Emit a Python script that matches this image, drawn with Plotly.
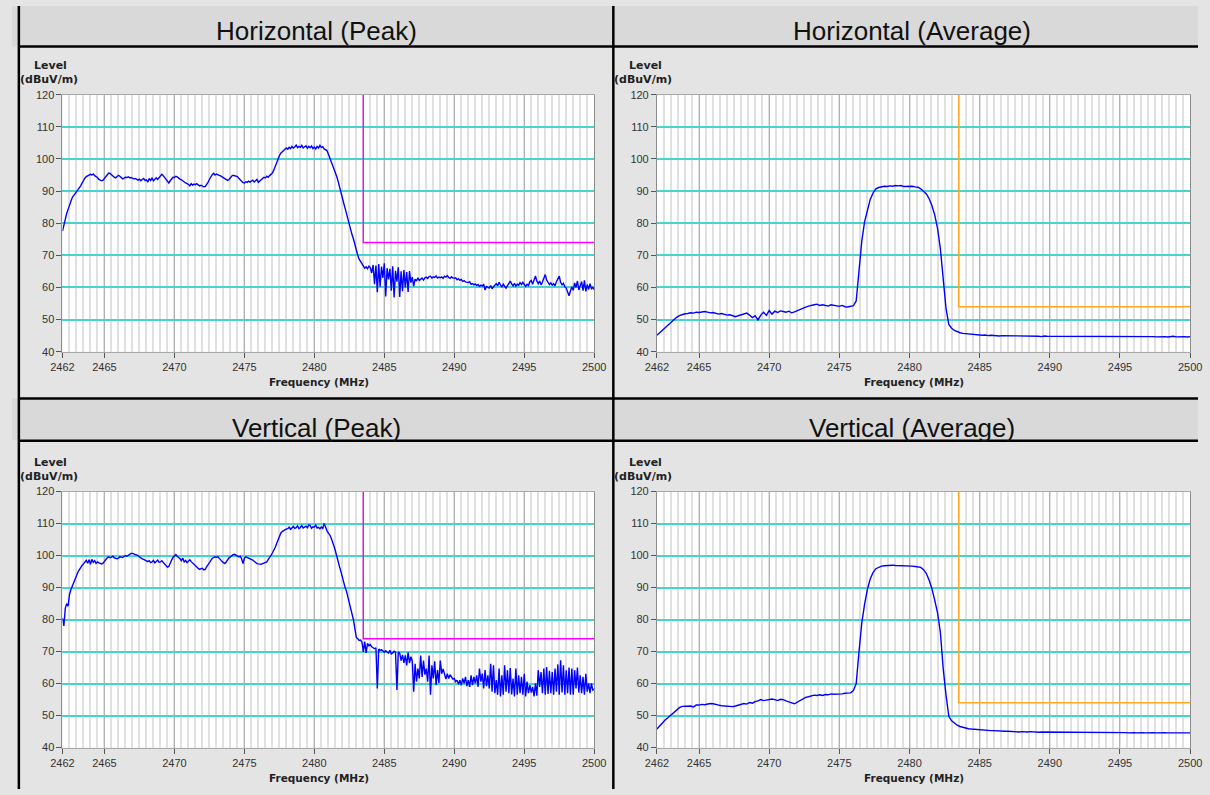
import numpy as np
import plotly.graph_objects as go

W, H = 1210, 795

# ---------------- data ----------------
# sample frequencies (MHz): peak sweeps every 0.1 MHz, average sweeps every 0.2 MHz
freq_peak = np.round(np.arange(2462.0, 2500.0001, 0.1), 1)
freq_avg = np.round(np.arange(2462.0, 2500.0001, 0.2), 1)

h_peak = [
    77.5, 79.5, 81.5, 83.0, 84.3, 85.6, 86.8, 88.0, 88.6, 89.2,
    89.6, 90.1, 90.8, 91.6, 92.5, 93.4, 94.0, 94.5, 94.8, 95.1,
    95.2, 95.0, 95.3, 94.8, 94.5, 94.2, 93.6, 93.4, 93.2, 93.4,
    93.9, 94.4, 95.1, 95.6, 95.5, 95.0, 94.6, 94.3, 94.1, 94.5,
    94.9, 94.6, 94.0, 93.8, 94.0, 94.3, 94.2, 94.4, 94.1, 94.2,
    94.0, 93.8, 93.9, 93.6, 93.4, 93.7, 93.2, 93.6, 93.9, 93.3,
    93.5, 92.8, 93.9, 93.3, 94.0, 93.2, 93.8, 94.1, 93.6, 94.2,
    94.7, 95.2, 94.8, 94.2, 93.6, 93.0, 92.5, 93.2, 93.9, 94.3,
    94.2, 94.6, 94.4, 93.9, 93.7, 93.5, 93.1, 92.8, 92.5, 92.3,
    92.1, 91.6, 92.3, 91.8, 92.2, 92.0, 92.3, 91.9, 91.6, 91.8,
    91.5, 91.3, 91.4, 92.0, 92.7, 93.6, 94.4, 95.1, 95.5, 95.0,
    95.3, 95.2, 94.9, 94.7, 94.4, 94.1, 93.8, 93.5, 93.3, 93.6,
    94.2, 94.7, 94.9, 94.8, 94.8, 94.5, 94.0, 93.5, 93.2, 92.6,
    92.5, 92.9, 92.7, 93.1, 92.8, 93.0, 93.4, 92.8, 93.3, 93.6,
    92.7, 93.2, 93.6, 93.9, 94.3, 94.1, 94.6, 94.3, 94.8, 95.1,
    95.6, 96.5, 97.8, 98.9, 99.8, 101.0, 101.8, 102.3, 102.8, 103.0,
    103.4, 103.0, 103.6, 103.2, 103.9, 103.4, 103.7, 104.3, 103.5, 103.9,
    103.6, 104.2, 103.4, 103.8, 104.1, 103.3, 103.9, 103.5, 104.0, 103.2,
    103.7, 103.1, 103.9, 103.4, 104.2, 103.6, 103.8, 103.1, 102.9, 102.6,
    101.5, 100.4, 99.5, 98.4, 97.2, 95.8, 94.5, 93.0, 91.5, 89.8,
    87.8, 86.2, 84.6, 82.8, 81.2, 79.6, 77.9, 76.3, 75.0, 73.0,
    71.2, 70.0, 68.8, 68.0, 67.2, 66.6, 66.0, 66.4, 65.8, 66.6,
    66.2, 64.5, 67.0, 61.0, 66.8, 58.5, 67.3, 60.2, 66.5, 63.0,
    67.5, 57.2, 66.0, 62.5, 65.8, 59.0, 66.6, 56.9, 65.2, 61.8,
    66.3, 57.0, 65.0, 58.8, 65.4, 60.0, 64.8, 58.6, 65.1, 61.5,
    63.2, 60.4, 62.6, 62.0, 63.0, 62.2, 62.5, 62.9, 62.3, 63.0,
    63.2, 62.8, 63.4, 63.5, 62.9, 63.3, 63.1, 63.6, 62.9, 63.2,
    63.0, 63.3, 62.8, 63.5, 63.2, 63.7, 63.1, 62.8, 63.3, 62.9,
    62.9, 63.0, 62.4, 62.7, 62.2, 62.5, 61.9, 62.1, 61.7, 61.5,
    61.5, 61.8, 61.0, 61.2, 60.8, 61.1, 60.6, 60.9, 60.3, 60.7,
    60.4, 61.0, 59.2, 60.3, 60.0, 59.8, 60.6, 59.6, 60.2, 60.9,
    61.2, 60.5, 61.6, 60.8, 60.1, 61.0, 60.2, 59.8, 60.6, 61.4,
    62.0, 61.1, 60.5, 61.3, 60.4, 61.0, 60.7, 61.5, 60.9, 61.6,
    60.8, 60.3, 61.0, 60.6, 61.8, 62.2, 61.0, 62.5, 63.6, 61.9,
    61.2, 62.0, 60.8, 61.7, 63.0, 64.0, 62.3, 61.5, 60.9, 61.4,
    60.7, 61.2, 60.5, 61.8, 62.9, 63.5, 61.6, 60.8, 61.3, 60.2,
    59.8, 58.6, 57.4, 58.9, 60.2, 59.1, 61.4, 60.0, 62.0, 59.2,
    60.5, 61.8, 59.0, 62.2, 58.8, 60.9, 59.3, 61.2, 59.6, 60.0,
    59.3,
]

h_avg = [
    45.1, 45.9, 46.8, 47.6, 48.4,
    49.3, 50.0, 50.7, 51.2, 51.6,
    51.8, 51.9, 52.1, 52.0, 52.3,
    52.2, 52.4, 52.5, 52.3, 52.1,
    52.2, 51.9, 51.7, 51.9, 51.6,
    51.4, 51.5, 51.1, 50.9, 51.2,
    51.5, 51.8, 52.0, 51.4, 50.6,
    51.2, 49.9, 51.4, 52.3, 51.3,
    52.8, 51.7, 52.6, 52.2, 52.7,
    52.5, 52.3, 52.6, 52.1, 52.4,
    52.8, 53.3, 53.6, 53.9, 54.2,
    54.3, 54.6, 54.8, 54.4, 54.6,
    54.5, 54.2, 54.6, 54.4, 54.3,
    54.1, 54.4, 54.0, 53.9, 54.2,
    54.3, 55.8, 65.0, 74.5, 80.5,
    84.5, 87.4, 89.4, 90.7, 91.1,
    91.3, 91.5, 91.4, 91.6, 91.5,
    91.7, 91.6, 91.7, 91.4, 91.5,
    91.4, 91.5, 91.3, 91.2, 90.7,
    90.0, 89.1, 87.6, 85.4, 82.5,
    78.3, 72.0, 63.5, 53.5, 48.5,
    47.3, 46.6, 46.2, 45.9, 45.7,
    45.6, 45.5, 45.4, 45.3, 45.2,
    45.3, 45.1, 45.2, 45.0, 45.1,
    45.0, 45.1, 44.9, 45.0, 45.0,
    44.9, 45.0, 44.9, 44.8, 44.9,
    45.0, 44.8, 44.9, 44.9, 44.8,
    44.9, 44.8, 44.7, 44.9, 44.8,
    44.8, 44.9, 44.8, 44.7, 44.8,
    44.9, 44.7, 44.8, 44.8, 44.9,
    44.8, 44.7, 44.8, 44.9, 44.8,
    44.7, 44.8, 44.9, 44.8, 44.7,
    44.8, 44.9, 44.8, 44.7, 44.8,
    44.8, 44.7, 44.9, 44.8, 44.7,
    44.8, 44.7, 44.8, 44.7, 44.8,
    44.7, 44.8, 44.7, 44.6, 44.7,
    44.8, 44.7, 44.6, 44.7, 44.8,
    44.6, 44.7, 44.6, 44.7, 44.6,
    44.7,
]

v_peak = [
    80.5, 78.0, 83.5, 85.0, 84.2, 87.8, 89.3, 90.5, 91.8, 92.8,
    93.9, 94.8, 95.5, 96.3, 96.9, 97.4, 98.0, 98.5, 97.6, 98.7,
    97.3, 98.8, 97.9, 98.4, 97.6, 98.0, 97.7, 97.5, 97.4, 97.6,
    98.2, 98.9, 99.3, 99.6, 99.3, 99.5, 99.8, 99.3, 99.1, 99.0,
    99.2, 99.6, 99.5, 99.4, 99.7, 100.0, 99.8, 100.2, 100.5, 100.7,
    100.7, 100.5, 100.4, 100.3, 100.0, 99.6, 99.2, 99.0, 98.8, 98.5,
    98.3, 98.1, 98.4, 97.8, 98.0, 98.5, 97.7, 98.3, 98.6, 97.9,
    98.0, 98.4, 97.9, 97.3, 96.8, 96.4, 96.6, 97.8, 98.6, 99.4,
    100.0, 100.3, 99.8, 99.5, 99.0, 98.4, 99.2, 98.0, 98.5, 97.8,
    98.3, 98.7, 98.1, 97.6, 97.2, 96.8, 96.4, 96.0, 95.7, 95.9,
    96.0, 95.5, 95.7, 96.5, 97.2, 98.0, 98.8, 99.1, 99.4, 99.6,
    99.5, 99.6, 99.2, 98.6, 98.2, 97.8, 97.5, 98.0, 98.8, 99.3,
    99.6, 100.0, 100.3, 100.4, 100.2, 99.9, 99.6, 99.8, 99.0, 97.5,
    99.2, 99.6, 99.4, 99.3, 99.1, 99.0, 98.6, 98.2, 97.8, 97.5,
    97.4, 97.3, 97.3, 97.5, 97.6, 97.9, 98.0, 98.7, 99.6, 100.1,
    100.8, 101.6, 102.5, 103.7, 104.9, 106.3, 107.0, 107.5, 107.8, 108.1,
    108.3, 108.4, 108.9, 108.2, 108.6, 109.1, 108.5, 108.7, 109.3, 108.4,
    108.8, 109.4, 108.6, 108.9, 109.2, 108.7, 109.6, 109.4, 108.5, 109.0,
    108.9, 109.5, 108.6, 108.8, 108.4, 108.9, 108.5, 110.0, 108.6, 107.8,
    107.0, 106.5, 105.5, 104.4, 103.0, 101.5, 99.6, 98.2, 96.5, 95.0,
    93.0, 91.5, 90.0, 88.8, 87.0, 85.2, 83.5, 81.8, 79.8, 77.0,
    74.4, 74.0, 73.5, 73.6, 73.0, 69.9, 73.1, 69.6, 72.6, 71.8,
    72.2, 71.5, 71.3, 70.9, 71.2, 58.5, 70.8, 70.4, 70.6, 70.1,
    69.8, 70.3, 70.0, 69.5, 70.4, 69.3, 69.6, 70.1, 69.8, 58.0,
    69.9, 69.5, 67.2, 69.0, 66.5, 68.8, 65.7, 69.8, 66.4, 68.4,
    67.0, 57.5, 66.2, 60.6, 64.7, 61.6, 68.8, 62.1, 67.2, 62.8,
    64.7, 60.6, 68.8, 56.5, 65.7, 61.6, 67.0, 59.5, 64.2, 60.2,
    67.2, 63.1, 64.6, 62.6, 61.4, 63.1, 61.6, 62.8, 62.1, 61.4,
    61.6, 60.6, 61.1, 59.8, 61.1, 59.5, 61.6, 60.1, 62.1, 59.2,
    61.1, 59.0, 62.6, 59.5, 62.1, 60.1, 62.6, 59.0, 64.7, 60.6,
    63.1, 58.5, 64.2, 59.2, 62.6, 58.5, 66.2, 57.5, 65.7, 57.0,
    61.1, 56.5, 64.7, 56.0, 62.6, 56.5, 65.7, 57.5, 64.2, 57.0,
    64.9, 56.6, 61.6, 56.0, 64.7, 56.5, 62.6, 57.0, 62.1, 56.5,
    63.1, 56.0, 60.6, 57.0, 59.5, 57.2, 59.0, 56.0, 60.1, 56.2,
    64.2, 59.0, 63.6, 57.0, 64.7, 56.5, 65.2, 56.8, 64.0, 57.0,
    63.6, 56.5, 64.7, 57.5, 66.0, 56.5, 67.3, 57.2, 65.7, 56.5,
    64.2, 57.0, 65.0, 56.5, 64.7, 56.5, 64.2, 58.5, 65.0, 57.2,
    62.6, 57.0, 62.1, 56.5, 63.1, 57.5, 60.1, 57.0, 60.1, 58.0,
    58.3,
]

v_avg = [
    45.8, 46.8, 47.8, 48.7, 49.4,
    50.2, 51.1, 52.0, 52.5, 52.9,
    53.0, 53.1, 53.0, 52.7, 53.3,
    53.3, 53.5, 53.4, 53.6, 53.8,
    53.7, 53.4, 53.3, 53.1, 53.0,
    53.0, 52.9, 52.8, 53.0, 53.3,
    53.5, 53.8, 53.6, 54.1, 53.9,
    54.4, 54.6, 55.0, 54.7, 54.8,
    54.9, 55.2, 55.0, 54.7, 55.1,
    55.0, 54.6, 54.4, 54.0, 53.7,
    54.2, 54.9, 55.3, 55.7, 55.9,
    56.2, 56.4, 56.3, 56.5, 56.3,
    56.6, 56.5, 56.8, 56.7, 56.7,
    56.9, 56.8, 57.0, 57.0, 57.1,
    57.8, 60.0, 70.0, 79.0, 84.8,
    89.5, 92.7, 94.7, 95.9, 96.4,
    96.7, 96.8, 96.9, 96.8, 97.0,
    96.9, 96.9, 96.8, 96.9, 96.8,
    96.8, 96.7, 96.6, 96.5, 96.3,
    95.6, 94.4, 92.3, 89.6, 86.0,
    82.0, 76.0, 64.7, 56.5, 49.8,
    48.4, 47.6, 47.0, 46.6, 46.3,
    46.1, 45.9, 45.8, 45.7, 45.6,
    45.6, 45.5, 45.4, 45.3, 45.3,
    45.3, 45.2, 45.2, 45.1, 45.1,
    45.1, 45.0, 45.1, 45.0, 44.9,
    45.0, 44.9, 44.9, 45.0, 44.9,
    44.9, 44.8, 44.9, 44.9, 44.8,
    44.9, 44.8, 44.8, 44.9, 44.8,
    44.8, 44.9, 44.8, 44.7, 44.8,
    44.8, 44.7, 44.8, 44.8, 44.7,
    44.8, 44.7, 44.8, 44.7, 44.8,
    44.7, 44.8, 44.7, 44.8, 44.7,
    44.7, 44.8, 44.7, 44.6, 44.7,
    44.7, 44.6, 44.7, 44.7, 44.6,
    44.7, 44.6, 44.7, 44.6, 44.7,
    44.6, 44.7, 44.6, 44.6, 44.7,
    44.6, 44.7, 44.6, 44.6, 44.7,
    44.6,
]

limit_freq = [2483.5, 2483.5, 2500.0]
peak_limit = [120, 74, 74]
avg_limit = [120, 54, 54]

x_ticks = [2462, 2465, 2470, 2475, 2480, 2485, 2490, 2495, 2500]
y_ticks = [40, 50, 60, 70, 80, 90, 100, 110, 120]

titles = ["Horizontal (Peak)", "Horizontal (Average)", "Vertical (Peak)", "Vertical (Average)"]

assert len(h_peak) == len(freq_peak) == len(v_peak), (len(h_peak), len(v_peak))
assert len(h_avg) == len(freq_avg) == len(v_avg), (len(h_avg), len(v_avg))

# ---------------- layout helpers (pixels -> paper) ----------------
def px(x):
    return x / W


def py(y):
    return 1 - y / H


TRACE_BLUE = "#0000ff"
PEAK_LIMIT_COLOR = "#ff00ff"
AVG_LIMIT_COLOR = "#ffa726"
CYAN = "#46d4d0"
TITLE_BG = "#d9d9d9"
PANEL_BG = "#e4e4e4"
TICK_FONT = dict(family="Liberation Sans, Arial, sans-serif", size=11, color="#333333")
LABEL_FONT = dict(family="DejaVu Sans, Verdana, sans-serif", size=11, color="#222222", weight="bold")
XLABEL_FONT = dict(family="DejaVu Sans, Verdana, sans-serif", size=10.5, color="#222222", weight="bold")
TITLE_FONT = dict(family="Liberation Sans, Arial, sans-serif", size=26, color="#111111")

# panel plot areas in pixels: (left, right, top, bottom)
panels = [
    (51.5, 594.0, 90.0, 351.0),
    (658.0, 1202.0, 90.0, 351.0),
    (51.5, 594.0, 493.0, 753.0),
    (658.0, 1202.0, 493.0, 753.0),
]
series = [
    (freq_peak, h_peak, peak_limit, PEAK_LIMIT_COLOR),
    (freq_avg, h_avg, avg_limit, AVG_LIMIT_COLOR),
    (freq_peak, v_peak, peak_limit, PEAK_LIMIT_COLOR),
    (freq_avg, v_avg, avg_limit, AVG_LIMIT_COLOR),
]

fig = go.Figure()
layout = dict(
    width=W,
    height=H,
    margin=dict(l=0, r=0, t=0, b=0, pad=0),
    paper_bgcolor=PANEL_BG,
    plot_bgcolor="#ffffff",
    showlegend=False,
    shapes=[],
    annotations=[],
)

for i, ((l, r, t, b), (fx, fy, lim, lcol)) in enumerate(zip(panels, series)):
    n = i + 1
    xa = "x" if n == 1 else f"x{n}"
    ya = "y" if n == 1 else f"y{n}"
    fig.add_trace(go.Scatter(x=limit_freq, y=lim, mode="lines",
                             line=dict(color=lcol, width=1.4),
                             xaxis=xa, yaxis=ya, hoverinfo="skip"))
    fig.add_trace(go.Scatter(x=fx, y=fy, mode="lines",
                             line=dict(color=TRACE_BLUE, width=1.4),
                             xaxis=xa, yaxis=ya))
    layout[f"xaxis{n if n > 1 else ''}"] = dict(
        domain=[px(l), px(r)], anchor=ya, range=[2462, 2500],
        tickmode="array", tickvals=x_ticks, ticktext=[str(v) for v in x_ticks],
        ticks="outside", ticklen=5, tickcolor="#555555", tickwidth=1,
        tickfont=TICK_FONT, showline=True, linecolor="#a8a8a8", linewidth=1, mirror=True,
        showgrid=True, gridcolor="#b2b2b2", gridwidth=1, zeroline=False,
        minor=dict(tick0=2462, dtick=0.5, showgrid=True, gridcolor="#e0e0e0", gridwidth=2),
        fixedrange=True,
    )
    layout[f"yaxis{n if n > 1 else ''}"] = dict(
        domain=[py(b), py(t)], anchor=xa, range=[40, 120],
        tickmode="array", tickvals=y_ticks,
        ticks="outside", ticklen=5, tickcolor="#555555", tickwidth=1,
        tickfont=TICK_FONT, showline=True, linecolor="#8c8c8c", linewidth=1, mirror=True,
        showgrid=True, gridcolor=CYAN, gridwidth=2, zeroline=False,
        fixedrange=True,
    )
    # axis captions
    layout["annotations"] += [
        dict(text="Level", x=px(l - 12), y=py(t - 30), xref="paper", yref="paper",
             showarrow=False, font=LABEL_FONT, xanchor="center", yanchor="middle"),
        dict(text="(dBuV/m)", x=px(l - 14), y=py(t - 15.5), xref="paper", yref="paper",
             showarrow=False, font=LABEL_FONT, xanchor="center", yanchor="middle"),
        dict(text="Frequency (MHz)", x=px((l + r) / 2 - 9.5), y=py(b + 31), xref="paper", yref="paper",
             showarrow=False, font=XLABEL_FONT, xanchor="center", yanchor="middle"),
    ]

# title rows and table borders
layout["shapes"] += [
    dict(type="rect", xref="paper", yref="paper", x0=0, x1=1, y0=py(41), y1=1,
         fillcolor=TITLE_BG, line=dict(width=0), layer="below"),
    dict(type="rect", xref="paper", yref="paper", x0=0, x1=1, y0=py(441), y1=py(398),
         fillcolor=TITLE_BG, line=dict(width=0), layer="below"),
]
for yy in (41, 398.5, 441.5):
    layout["shapes"].append(dict(type="line", xref="paper", yref="paper", x0=px(7), x1=1,
                                 y0=py(yy), y1=py(yy), line=dict(color="#000000", width=2.5)))
for xx in (7, 613.5):
    layout["shapes"].append(dict(type="line", xref="paper", yref="paper", x0=px(xx), x1=px(xx),
                                 y0=0, y1=1, line=dict(color="#000000", width=2.5)))

title_pos = [(310.5, 25), (918, 25), (311, 428), (918.5, 428)]
for txt, (tx, ty) in zip(titles, title_pos):
    layout["annotations"].append(dict(text=txt, x=px(tx), y=py(ty), xref="paper", yref="paper",
                                      showarrow=False, font=TITLE_FONT,
                                      xanchor="center", yanchor="middle"))

fig.update_layout(**layout)
fig.write_html(
    "out.html",
    config={"displayModeBar": False},
    post_script=("document.body.style.margin='0';document.body.style.padding='0';"
                 "document.body.style.overflow='hidden';"),
)
